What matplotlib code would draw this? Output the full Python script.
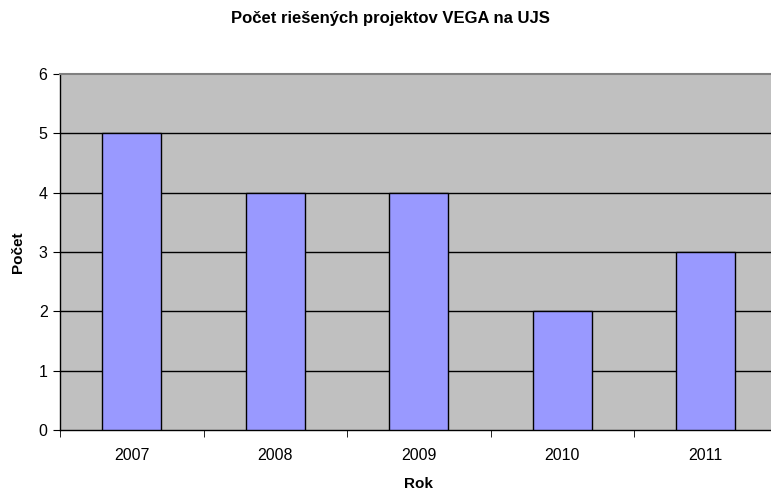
import matplotlib
matplotlib.use("Agg")
import matplotlib.pyplot as plt
import numpy as np

years = ["2007", "2008", "2009", "2010", "2011"]
counts = [5, 4, 4, 2, 3]

plt.rcParams['font.family'] = ['Liberation Sans', 'DejaVu Sans']

fig = plt.figure(figsize=(7.71, 4.92), dpi=100)
ax = fig.add_axes([60 / 771, 1 - 430 / 492, 717.5 / 771, 356 / 492])
ax.set_facecolor("#C0C0C0")

x = np.arange(len(years))
ax.bar(x, counts, width=0.41, color="#9999FF", edgecolor="black", linewidth=1, zorder=3)

ax.set_xlim(-0.5, len(years) - 0.5)
ax.set_ylim(0, 6)
ax.set_yticks(range(0, 7))
for v in range(1, 6):
    ax.axhline(v, color="black", linewidth=1, zorder=1)

ax.set_xticks(x)
ax.set_xticklabels(years, fontsize=11.5)
ax.set_xticks(np.arange(-0.5, len(years) + 0.5, 1), minor=True)
ax.tick_params(axis="x", which="major", length=0, pad=13)
ax.tick_params(axis="x", which="minor", length=5, direction="out", color="black")
ax.tick_params(axis="y", length=5, direction="out", labelsize=11.5, pad=4)

ax.spines["right"].set_visible(False)
ax.spines["top"].set_color("#808080")
ax.spines["top"].set_linewidth(1.5)
ax.spines["left"].set_linewidth(1)
ax.spines["bottom"].set_linewidth(1)

ax.set_xlabel("Rok", fontsize=11, fontweight="bold", labelpad=10)
ax.set_ylabel("Počet", fontsize=11, fontweight="bold", labelpad=10)
fig.text(390 / 771, 1 - 19 / 492, "Počet riešených projektov VEGA na UJS", ha="center", va="center",
         fontsize=12, fontweight="bold")

fig.savefig("out.png", dpi=100)
